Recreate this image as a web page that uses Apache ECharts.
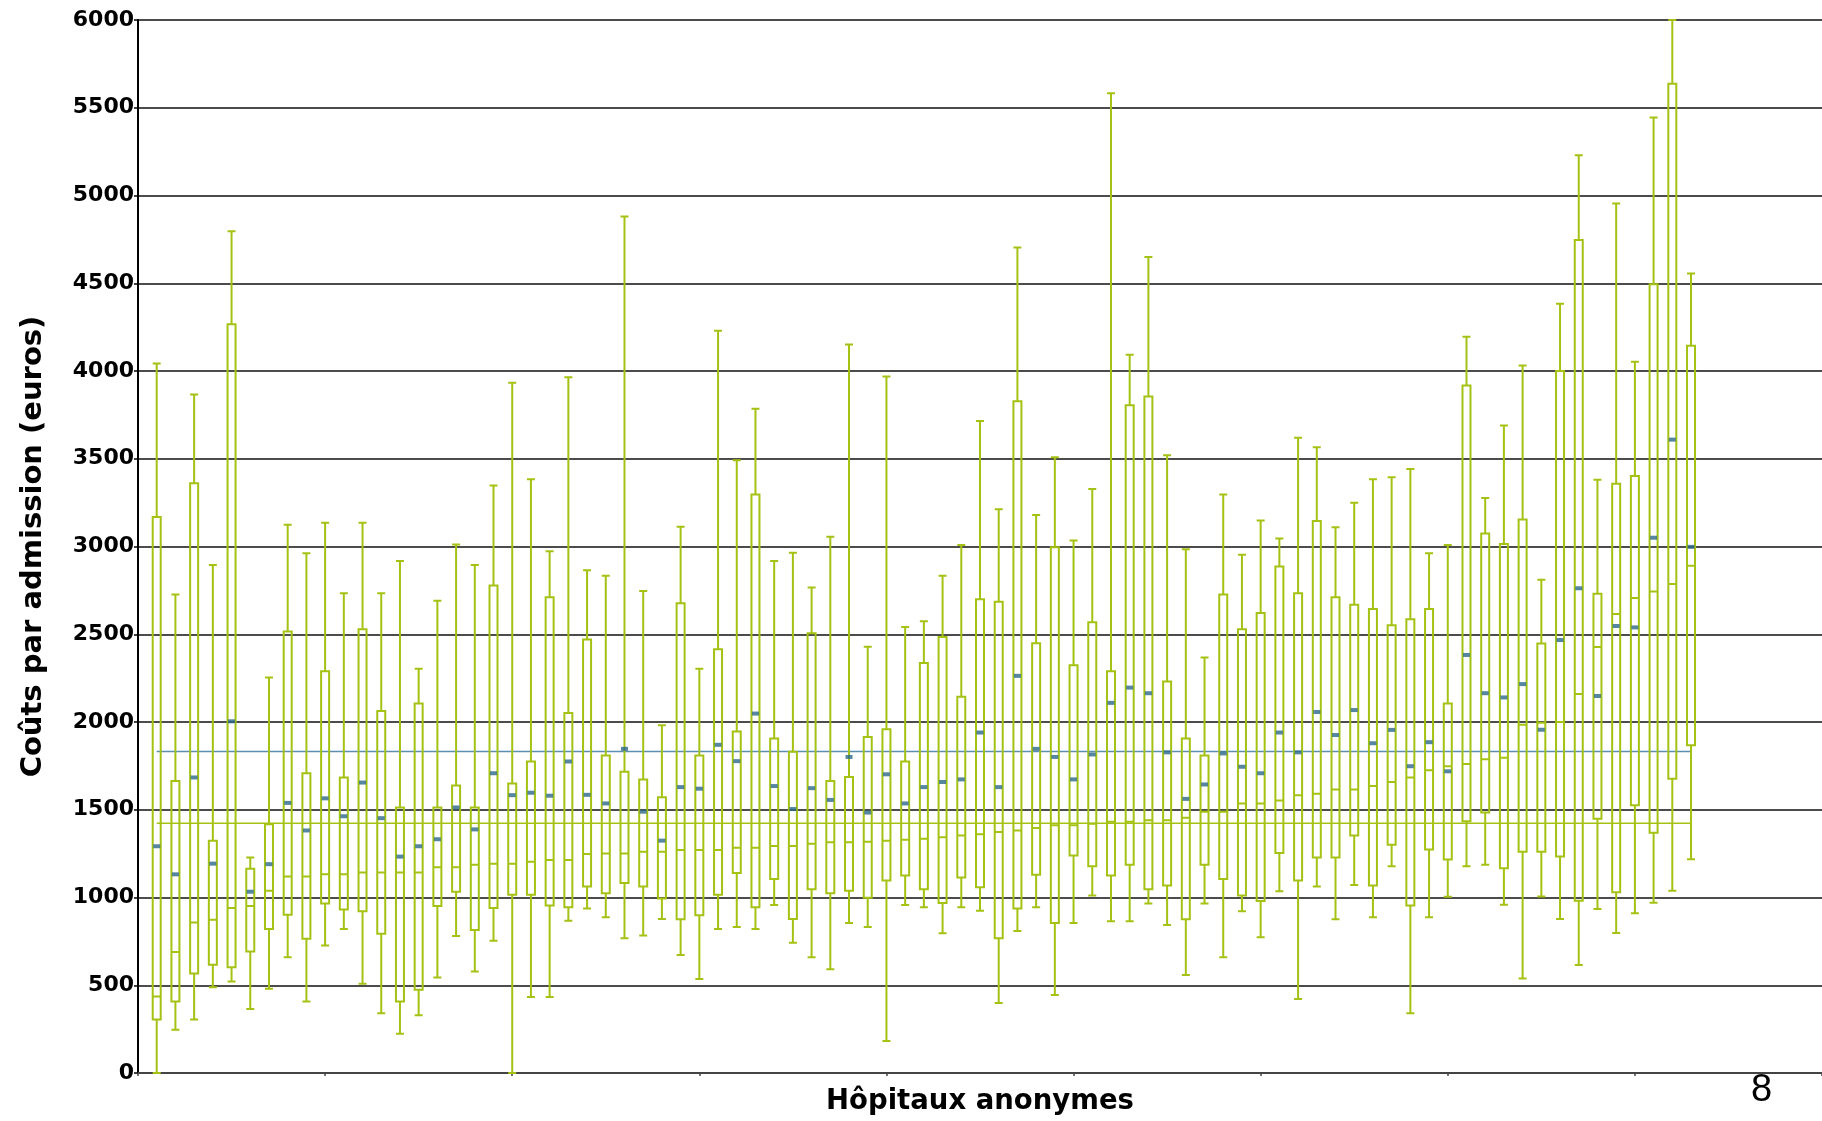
<!DOCTYPE html>
<html>
<head>
<meta charset="utf-8">
<script src="https://cdn.jsdelivr.net/npm/echarts@6/dist/echarts.min.js"></script>
<style>
html,body{margin:0;padding:0;background:#fff;}
#chart{width:1822px;height:1121px;}
</style>
</head>
<body>
<div id="chart"></div>
<script>
// Hospitals 1..83 (anonymous), x axis runs 0..90
const hospitals = Array.from({length: 83}, (_, i) => i + 1);
const yTicks = [0, 500, 1000, 1500, 2000, 2500, 3000, 3500, 4000, 4500, 5000, 5500, 6000];

const whiskerLow = [0,247,305,489,521,364,480,660,407,727,820,509,340,224,329,544,780,579,753,0,
  433,433,867,937,887,768,783,878,672,535,820,832,820,957,742,660,591,855,832,183,
  957,945,797,945,925,399,809,945,445,855,1012,864,864,966,844,559,966,660,922,774,
  1036,422,1062,876,1071,887,1178,340,887,1004,1178,1186,958,539,1006,878,615,934,798,910,
  970,1038,1218];
const q1 = [305,407,567,617,602,692,820,902,765,966,931,922,794,407,474,951,1033,815,940,1015,
  1015,954,945,1062,1024,1082,1062,995,876,899,1015,1140,945,1105,878,1047,1024,1039,998,1097,
  1126,1047,969,1114,1059,768,937,1129,855,1239,1178,1126,1187,1047,1068,876,1187,1105,1012,980,
  1254,1097,1228,1228,1353,1068,1300,954,1274,1216,1434,1485,1166,1261,1261,1234,982,1449,1030,1525,
  1369,1677,1868];
const median = [436,689,858,873,940,951,1039,1120,1120,1132,1132,1143,1143,1143,1143,1172,1172,1187,1193,1193,
  1204,1213,1213,1248,1251,1251,1260,1260,1271,1271,1271,1283,1283,1294,1294,1306,1315,1315,1318,1324,
  1329,1335,1344,1353,1361,1373,1382,1396,1411,1411,1420,1431,1431,1440,1440,1454,1489,1489,1536,1536,
  1553,1583,1591,1615,1615,1635,1658,1684,1725,1748,1760,1788,1796,1984,1996,2000,2160,2427,2615,2707,
  2743,2786,2890];
const q3 = [3168,1664,3360,1324,4267,1164,1417,2516,1708,2289,1684,2528,2062,1513,2106,1513,1638,1513,2778,1649,
  1775,2711,2051,2470,1809,1716,1673,1571,2676,1809,2414,1946,3296,1906,1830,2505,1664,1687,1914,1958,
  1775,2336,2484,2144,2700,2685,3828,2449,2996,2324,2569,2289,3805,3854,2231,1906,1809,2726,2528,2621,
  2886,2734,3145,2711,2668,2644,2551,2586,2644,2106,3918,3074,3014,3154,2447,4000,4746,2731,3357,3401,
  4495,5637,4144];
const whiskerHigh = [4043,2726,3866,2894,4796,1228,2254,3124,2961,3136,2734,3136,2734,2918,2304,2691,3011,2894,3348,3933,
  3383,2973,3965,2865,2833,4880,2746,1981,3113,2304,4230,3491,3785,2918,2964,2766,3055,4151,2429,3968,
  2542,2574,2833,3008,3715,3212,4703,3180,3508,3034,3328,5583,4093,4650,3520,2985,2368,3296,2953,3148,
  3046,3619,3566,3110,3249,3383,3395,3441,2961,3008,4195,3277,3689,4032,2810,4383,5230,3381,4954,4052,
  5445,6000,4555];
const means = [1292,1132,1684,1193,2004,1033,1190,1539,1382,1565,1463,1655,1452,1233,1292,1332,1513,1388,1708,1583,
  1597,1580,1775,1585,1536,1847,1489,1324,1629,1620,1870,1777,2048,1635,1504,1623,1556,1801,1484,1702,
  1536,1629,1658,1673,1940,1629,2263,1847,1801,1673,1815,2109,2196,2164,1827,1562,1644,1821,1745,1708,
  1940,1827,2057,1926,2068,1879,1955,1748,1885,1719,2382,2164,2140,2216,1956,2467,2762,2148,2547,2539,
  3050,3609,2998];
const overallMean = 1832;
const overallMedian = 1423;

const categories = Array.from({length: 91}, (_, i) => String(i));
const GREEN = '#a4c214';
const BLUE_LINE = '#5b8fb2';
const MEAN_COLOR = '#2d6888';

const boxData = hospitals.map((h, i) => [String(h), whiskerLow[i], q1[i], median[i], q3[i], whiskerHigh[i]]);
const meanData = hospitals.map((h, i) => [String(h), means[i]]);
const first = String(hospitals[0]), last = String(hospitals[hospitals.length - 1]);

const chart = echarts.init(document.getElementById('chart'), null, {renderer: 'canvas'});
chart.setOption({
  animation: false,
  backgroundColor: '#fff',
  grid: {left: 138, right: -4, top: 20, bottom: 47, containLabel: false},
  xAxis: {
    type: 'category',
    data: categories,
    boundaryGap: false,
    axisLine: {lineStyle: {color: '#444', width: 2}},
    axisTick: {show: true, interval: 9, length: 3, lineStyle: {color: '#444', width: 1.5}},
    axisLabel: {show: false},
    splitLine: {show: false},
    name: 'Hôpitaux anonymes',
    nameLocation: 'middle',
    nameGap: 15,
    nameTextStyle: {fontFamily: 'DejaVu Sans', fontWeight: 'bold', fontSize: 27.5, color: '#000'}
  },
  yAxis: {
    type: 'value',
    min: yTicks[0],
    max: yTicks[yTicks.length - 1],
    interval: 500,
    axisLine: {show: true, lineStyle: {color: '#000', width: 2}},
    axisTick: {show: true, length: 4, lineStyle: {color: '#000', width: 1.5}},
    axisLabel: {fontFamily: 'DejaVu Sans', fontWeight: 'bold', fontSize: 22, color: '#000', margin: 4,
      formatter: v => String(v)},
    splitLine: {show: true, lineStyle: {color: '#111', width: 1.6}},
    name: 'Coûts par admission (euros)',
    nameLocation: 'middle',
    nameGap: 90,
    nameTextStyle: {fontFamily: 'DejaVu Sans', fontWeight: 'bold', fontSize: 29, color: '#000'}
  },
  series: [
    {
      type: 'line',
      data: [[first, overallMean], [last, overallMean]],
      symbol: 'none',
      lineStyle: {color: BLUE_LINE, width: 1.6},
      z: 1
    },
    {
      type: 'line',
      data: [[first, overallMedian], [last, overallMedian]],
      symbol: 'none',
      lineStyle: {color: GREEN, width: 1.6},
      z: 1
    },
    {
      type: 'boxplot',
      data: boxData,
      encode: {x: 0, y: [1, 2, 3, 4, 5]},
      boxWidth: [8, 8],
      itemStyle: {color: 'rgba(255,255,255,0)', borderColor: GREEN, borderWidth: 2},
      z: 2
    },
    {
      type: 'scatter',
      data: meanData,
      symbol: 'rect',
      symbolSize: [7, 4],
      itemStyle: {color: MEAN_COLOR},
      z: 3
    }
  ],
  graphic: [{
    type: 'text',
    left: 1751,
    top: 1072,
    style: {text: '8', fontFamily: 'Liberation Sans', fontSize: 38, fill: '#000'}
  }]
});
</script>
</body>
</html>
